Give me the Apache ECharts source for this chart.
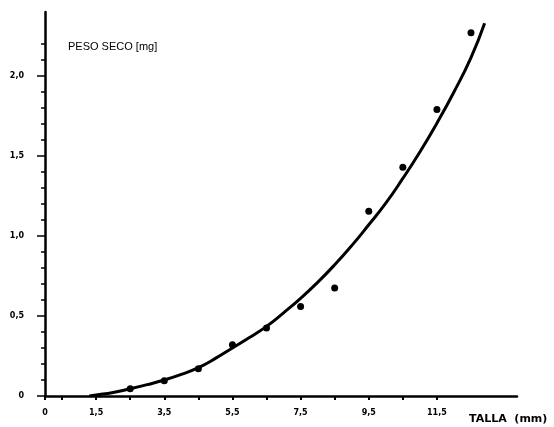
<!DOCTYPE html>
<html>
<head>
<meta charset="utf-8">
<script src="https://cdn.jsdelivr.net/npm/echarts@6/dist/echarts.min.js"></script>
<style>
html,body{margin:0;padding:0;background:#fff;}
#chart{width:554px;height:427px;}
</style>
</head>
<body>
<div id="chart"></div>
<script>
// Observed points: talla (mm) vs peso seco (mg)
const tallaPts = [2.5, 3.5, 4.5, 5.5, 6.5, 7.5, 8.5, 9.5, 10.5, 11.5, 12.5];
const pesoPts  = [0.045, 0.095, 0.17, 0.32, 0.425, 0.56, 0.675, 1.155, 1.43, 1.79, 2.27];

// Fitted curve
const curveX = [1.3, 1.5, 2, 2.5, 3, 3.5, 4, 4.5, 5, 5.5, 6, 6.5, 7, 7.5, 8, 8.5, 9, 9.5, 10, 10.5, 11, 11.5, 12, 12.5, 12.9];
const curveY = [0, 0.006, 0.022, 0.045, 0.071, 0.1, 0.135, 0.177, 0.235, 0.3, 0.365, 0.435, 0.52, 0.61, 0.71, 0.82, 0.94, 1.07, 1.205, 1.36, 1.525, 1.705, 1.9, 2.115, 2.33];

// Axis ticks and labels
const xTicks  = [0, 0.5, 1.5, 2.5, 3.5, 4.5, 5.5, 6.5, 7.5, 8.5, 9.5, 10.5, 11.5];
const xLabels = [0, 1.5, 3.5, 5.5, 7.5, 9.5, 11.5];
const yMinorTicks = [0, 0.1, 0.2, 0.3, 0.4, 0.5, 0.6, 0.7, 0.8, 0.9, 1.0, 1.1, 1.2, 1.3, 1.4, 1.5, 1.6, 1.7, 1.8, 1.9, 2.0, 2.1, 2.2];
const yLabels = [0, 0.5, 1.0, 1.5, 2.0];
const yLabelText = ['0', '0,5', '1,0', '1,5', '2,0'];
const xLabelText = ['0', '1,5', '3,5', '5,5', '7,5', '9,5', '11,5'];

const chart = echarts.init(document.getElementById('chart'), null, {renderer: 'canvas'});
const lblFont = {fontFamily: 'DejaVu Sans', fontWeight: 'bold', fontSize: 8, color: '#000'};

const option = {
  backgroundColor: '#fff',
  animation: false,
  grid: {left: 45, right: 37, top: 12, bottom: 31, containLabel: false},
  xAxis: {
    type: 'value', min: 0, max: 13.85,
    splitLine: {show: false},
    axisLine: {show: true, onZero: false, lineStyle: {color: '#000', width: 2.5}},
    axisTick: {show: true, customValues: xTicks, length: 4, lineStyle: {color: '#000', width: 2}},
    axisLabel: Object.assign({
      customValues: xLabels, margin: 13,
      formatter: v => xLabelText[xLabels.indexOf(Math.round(v * 10) / 10)] ?? String(v)
    }, lblFont)
  },
  yAxis: [
    {
      type: 'value', min: 0, max: 2.4,
      splitLine: {show: false},
      axisLine: {show: true, onZero: false, lineStyle: {color: '#000', width: 2.5}},
      axisTick: {show: true, customValues: yMinorTicks, length: 4, lineStyle: {color: '#000', width: 1.5}},
      axisLabel: {show: false}
    },
    {
      type: 'value', min: 0, max: 2.4, position: 'left', offset: 0,
      splitLine: {show: false},
      axisLine: {show: false},
      axisTick: {show: true, customValues: yLabels, length: 8, lineStyle: {color: '#000', width: 1.5}},
      axisLabel: Object.assign({
        customValues: yLabels, margin: 21,
        formatter: v => yLabelText[yLabels.indexOf(Math.round(v * 10) / 10)] ?? String(v)
      }, lblFont)
    }
  ],
  graphic: [
    {type: 'text', left: 68, top: 41, style: {text: 'PESO SECO [mg]', font: 'normal 11px "Liberation Sans"', fill: '#000'}},
    {type: 'text', left: 469, top: 414, style: {text: 'TALLA  (mm)', font: 'bold 11px "DejaVu Sans"', fill: '#000'}}
  ],
  series: [
    {
      type: 'line', yAxisIndex: 0,
      data: curveX.map((x, i) => [x, curveY[i]]),
      smooth: 0.5, showSymbol: false,
      lineStyle: {color: '#000', width: 3}
    },
    {
      type: 'scatter', yAxisIndex: 0,
      data: tallaPts.map((x, i) => [x, pesoPts[i]]),
      symbol: 'circle', symbolSize: 7,
      itemStyle: {color: '#000', opacity: 1}
    }
  ]
};
chart.setOption(option);
</script>
</body>
</html>
